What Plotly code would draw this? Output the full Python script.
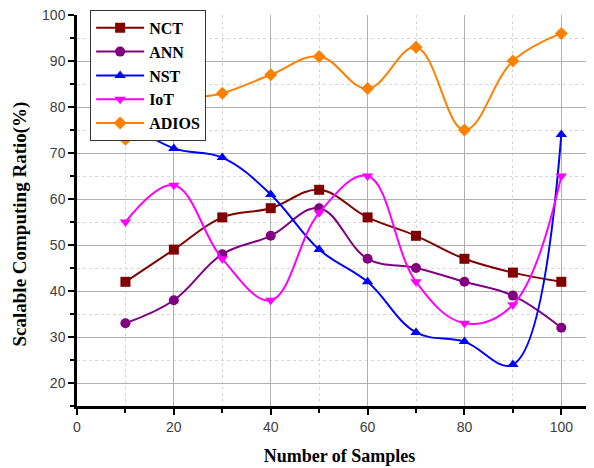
import plotly.graph_objects as go

x = [10, 20, 30, 40, 50, 60, 70, 80, 90, 100]
nct = [42, 49, 56, 58, 62, 56, 52, 47, 44, 42]
ann = [33, 38, 48, 52, 58, 47, 45, 42, 39, 32]
nst = [77, 71, 69, 61, 49, 42, 31, 29, 24, 74]
iot = [55, 63, 47, 38, 57, 65, 42, 33, 37, 65]
adios = [73, 81, 83, 87, 91, 84, 93, 75, 90, 96]

series = [
    ("NCT", nct, "#800000", "square"),
    ("ANN", ann, "#800080", "circle"),
    ("NST", nst, "#0000ff", "triangle-up"),
    ("IoT", iot, "#ff00ff", "triangle-down"),
    ("ADIOS", adios, "#ff8000", "diamond"),
]

fig = go.Figure()
for name, y, color, sym in series:
    fig.add_trace(go.Scatter(
        x=x, y=y, name=name, mode="lines+markers",
        line=dict(color=color, width=2, shape="spline", smoothing=1.1),
        marker=dict(symbol=sym, size=10, color=color),
    ))

fig.add_annotation(
    text="<b>Scalable Computing Ratio(%)</b>", textangle=-90,
    xref="paper", yref="paper", x=-0.108, y=0.465,
    xanchor="center", yanchor="middle", showarrow=False,
    font=dict(family="Liberation Serif", size=19, color="black"),
)

fig.update_layout(
    width=594, height=468,
    margin=dict(l=69, r=0, t=7, b=70, autoexpand=False),
    paper_bgcolor="white", plot_bgcolor="white",
    showlegend=True,
    legend=dict(
        x=0.025, y=1.013, xanchor="left", yanchor="top",
        bgcolor="white", bordercolor="#333333", borderwidth=1,
        font=dict(family="Liberation Serif", size=16, color="black", weight="bold"),
        itemwidth=48, tracegroupgap=0,
    ),
    xaxis=dict(
        range=[0, 108.4],
        tickvals=[0, 20, 40, 60, 80, 100],
        showgrid=True, gridcolor="#b0b0b0", gridwidth=1,
        minor=dict(dtick=10, tick0=0, showgrid=True, gridcolor="#d8d8d8", griddash="dot",
                   ticks="outside", ticklen=4, tickcolor="black"),
        ticks="outside", ticklen=6, tickcolor="black", tickwidth=1.5,
        showline=True, linecolor="black", linewidth=2.5,
        zeroline=False, ticklabeloverflow="allow",
        tickfont=dict(family="Liberation Sans", size=14, color="#404040"),
        title=dict(text="<b>Number of Samples</b>", standoff=16,
                   font=dict(family="Liberation Serif", size=18, color="black")),
    ),
    yaxis=dict(
        range=[15, 100],
        tickvals=[20, 30, 40, 50, 60, 70, 80, 90, 100],
        showgrid=True, gridcolor="#b0b0b0", gridwidth=1,
        minor=dict(dtick=5, tick0=0, showgrid=True, gridcolor="#d8d8d8", griddash="dot",
                   ticks="outside", ticklen=4, tickcolor="black"),
        ticks="outside", ticklen=6, tickcolor="black", tickwidth=1.5,
        showline=True, linecolor="black", linewidth=2.5,
        zeroline=False, ticklabeloverflow="allow",
        tickfont=dict(family="Liberation Sans", size=14, color="#404040"),
    ),
)

fig.write_html("out.html")
